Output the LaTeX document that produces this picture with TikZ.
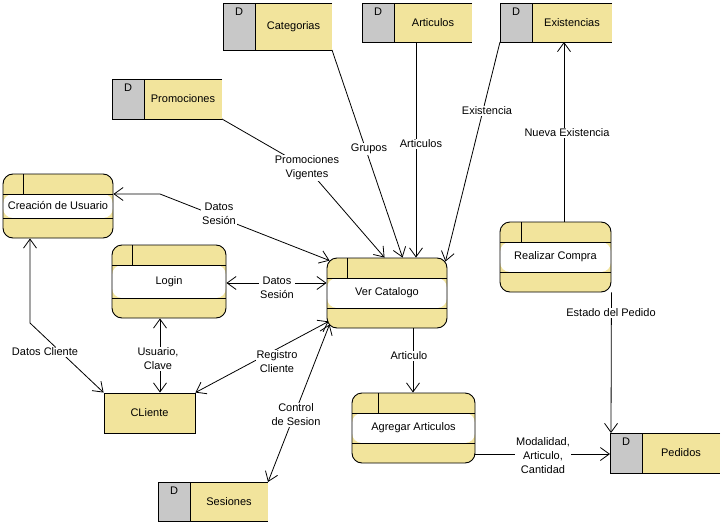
\documentclass[tikz,border=0pt]{standalone}
\usepackage{fontspec}
\setmainfont{Liberation Sans}
\usetikzlibrary{arrows.meta,fit,calc}

\definecolor{vpyellow}{HTML}{F2E49C}
\definecolor{vpgray}{HTML}{C8C8C8}

\tikzset{
  x=1pt, y=-1pt,
  divx/.initial=20pt,
  every node/.style={font=\fontsize{11}{14}\selectfont},
  proc/.style={rectangle, rounded corners=10pt, draw, line width=0.9pt,
    fill=vpyellow, inner sep=0pt, align=center,
    path picture={
      \fill[white] ([yshift=-20pt]path picture bounding box.north west)
        rectangle ([yshift=20pt]path picture bounding box.south east);
      \draw[line width=0.9pt]
        ([yshift=-20pt]path picture bounding box.north west) --
        ([yshift=-20pt]path picture bounding box.north east)
        ([yshift=20pt]path picture bounding box.south west) --
        ([yshift=20pt]path picture bounding box.south east)
        ([xshift=\pgfkeysvalueof{/tikz/divx}]path picture bounding box.north west) --
        ([xshift=\pgfkeysvalueof{/tikz/divx},yshift=-20pt]path picture bounding box.north west);
    }},
  entity/.style={rectangle, draw, line width=0.9pt, fill=vpyellow, inner sep=0pt},
  lbl/.style={fill=white, inner sep=1pt, align=center},
  tip/.style={Straight Barb[length=9pt,width=13pt]},
  flow/.style={line width=0.8pt, -{Straight Barb[length=9pt,width=13pt]}},
  biflow/.style={line width=0.8pt,
    {Straight Barb[length=9pt,width=13pt]}-{Straight Barb[length=9pt,width=13pt]}},
}

% data store: name, x1, y1, x2, y2, label
\newcommand{\dstore}[6]{%
  \node[inner sep=0pt, outer sep=0pt, fit={(#2,#3)(#4,#5)}, fill=vpyellow] (#1) {};
  \fill[vpgray] (#1.north west) rectangle ([xshift=32pt]#1.south west);
  \draw[line width=0.9pt] ([xshift=32pt]#1.north west) -- ([xshift=32pt]#1.south west);
  \draw[line width=0.9pt] (#1.north east) -- (#1.north west) -- (#1.south west) -- (#1.south east);
  \node (#1-d) at ([xshift=16pt,yshift=-9pt]#1.north west) {D};
  \node (#1-t) at ([xshift=16pt]#1.center) {#6};
}

\begin{document}
\begin{tikzpicture}
\fill[white] (0,0) rectangle (724,525);
\useasboundingbox (0,0) rectangle (724,525);

% data stores
\dstore{cat}{223}{3}{332}{50}{Categorias}
\dstore{art}{362}{3}{472}{42}{Articulos}
\dstore{ex}{500}{3}{612}{42}{Existencias}
\dstore{prom}{112}{79}{222}{119}{Promociones}
\dstore{ped}{610}{433}{720}{473}{Pedidos}
\dstore{ses}{158}{482}{268}{521}{Sesiones}

% processes
\node[proc, minimum width=110pt, minimum height=64pt] (cu) at (58,206) {Creación de Usuario};
\node[proc, minimum width=114pt, minimum height=73pt] (login) at (169,281.5) {Login};
\node[proc, minimum width=120pt, minimum height=70pt] (vc) at (387,293) {Ver Catalogo};
\node[proc, minimum width=111pt, minimum height=70pt, divx=21pt] (rc) at (555.5,257) {Realizar Compra};
\node[proc, minimum width=123pt, minimum height=70pt, divx=26pt] (ag) at (413.5,428) {Agregar Articulos};

% external entity
\node[entity, minimum width=91pt, minimum height=40pt] (cl) at (149.5,413) {CLiente};

% bend points
\coordinate (pBend) at (307,168);
\coordinate (dsBend) at (160,194);
\coordinate (dcBend) at (30,323);

% flows
\draw[flow] (prom.south east) -- (pBend) -- ([xshift=58pt]vc.north west);
\draw[flow] (cat.south east) -- ([xshift=76pt]vc.north west);
\draw[flow] ([xshift=-1pt]art.south) -- ([xshift=29pt]vc.north);
\draw[flow] (ex.south west) -- ([xshift=-2pt,yshift=-4pt]vc.north east);
\draw[flow] ([xshift=8.5pt]rc.north) -- ([xshift=8pt]ex.south);
\draw[biflow] ([xshift=3pt,yshift=-3pt]vc.north west) -- (dsBend) -- ([yshift=12pt]cu.east);
\draw[biflow] ([yshift=-1.5pt]login.east) -- ([yshift=-1.5pt]login.east -| vc.west);
\draw[biflow] ([xshift=-9pt]login.south) -- ([xshift=10.5pt]cl.north);
\draw[biflow] ([xshift=-28pt]cu.south) -- (dcBend) -- (cl.north west);
\draw[biflow] (cl.north east) -- ([xshift=2pt,yshift=7pt]vc.south west);
\draw[biflow] (ses.north east) -- ([xshift=3pt,yshift=4pt]vc.south west);
\draw[flow] ([xshift=26pt]vc.south) -- ([xshift=-0.5pt]ag.north);
\draw[flow] ([yshift=-26pt]ag.east) -- ([yshift=-26pt]ag.east -| ped.west);
\draw[flow] (rc.south east) -- ([xshift=1pt]ped.north west);

% flow labels
\node[lbl] (lPromo) at (pBend) {Promociones\\Vigentes};
\node[lbl] (lGrupos) at (369,149) {Grupos};
\node[lbl] (lArt) at (421,144) {Articulos};
\node[lbl] (lExist) at (487,111) {Existencia};
\node[lbl] (lNueva) at (567,133) {Nueva Existencia};
\node[lbl] (lDs1) at (219,214) {Datos\\Sesión};
\node[lbl] (lDs2) at (277,288) {Datos\\Sesión};
\node[lbl] (lUsr) at (158,359) {Usuario,\\Clave};
\node[lbl] (lDc) at (45,352) {Datos Cliente};
\node[lbl] (lReg) at (277,362) {Registro\\Cliente};
\node[lbl] (lCtl) at (296,415) {Control\\de Sesion};
\node[lbl] (lArt2) at (409,356) {Articulo};
\node[lbl] (lMod) at (543,456) {Modalidad,\\Articulo,\\Cantidad};
\node[lbl] (lEst) at (611,313) {Estado del Pedido};
\end{tikzpicture}
\end{document}
